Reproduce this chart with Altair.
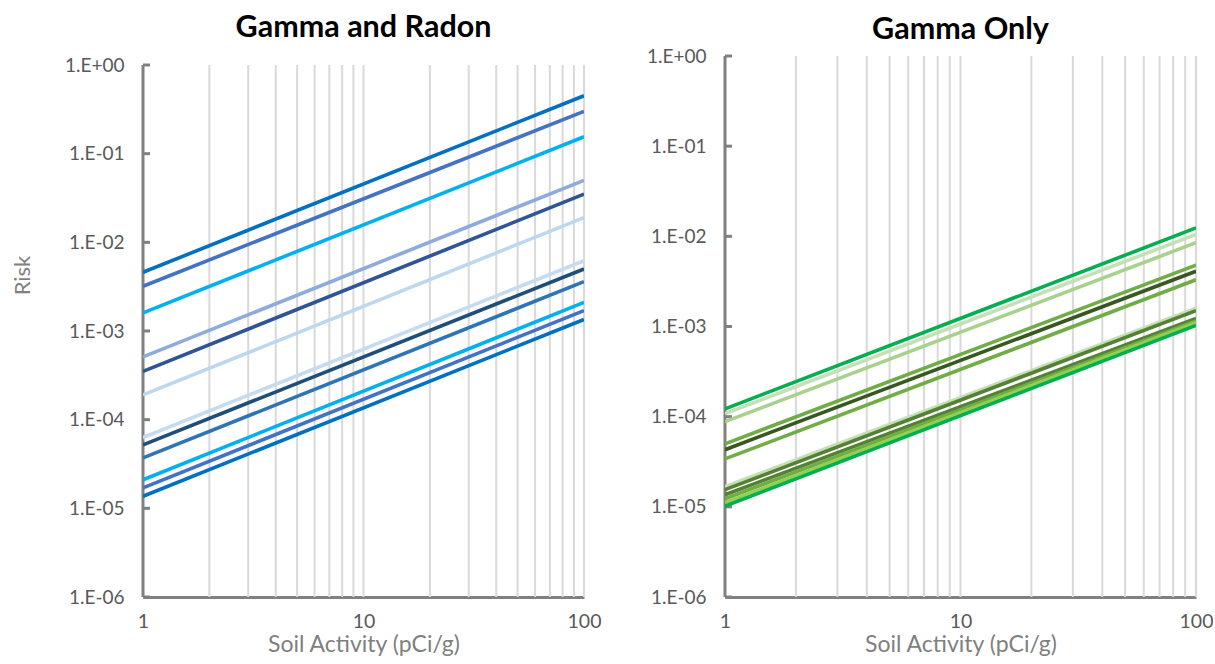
import altair as alt
import pandas as pd

# Soil activity end points (pCi/g) of every risk line
activity_low = 1
activity_high = 100

# Gamma and Radon: risk at 1 and at 100 pCi/g
radon_names = [f"GR{i}" for i in range(1, 13)]
radon_risk_low = [4.6e-3, 3.2e-3, 1.6e-3, 5.1e-4, 3.5e-4, 1.9e-4,
                  6.3e-5, 5.2e-5, 3.7e-5, 2.1e-5, 1.7e-5, 1.37e-5]
radon_risk_high = [0.45, 0.30, 0.155, 0.050, 0.035, 0.019,
                   0.0062, 0.0050, 0.0036, 0.0021, 0.0017, 0.00135]
radon_colors = ["#0070C0", "#4472C4", "#00B0F0", "#8FAADC", "#2F5597", "#BDD7EE",
                "#C5DCF0", "#1F4E79", "#2E75B6", "#00B0F0", "#4472C4", "#0070C0"]
radon_widths = [3.6, 3.6, 3.6, 3.6, 3.6, 3.6, 2.2, 2.2, 3.6, 3.6, 3.6, 3.6]

# Gamma only: risk at 1 and at 100 pCi/g
gamma_names = [f"G{i}" for i in range(1, 13)]
gamma_risk_low = [1.22e-4, 1.08e-4, 8.8e-5, 5.0e-5, 4.3e-5, 3.4e-5,
                  1.67e-5, 1.55e-5, 1.36e-5, 1.23e-5, 1.11e-5, 1.02e-5]
gamma_risk_high = [0.0124, 0.0105, 0.0085, 0.0048, 0.0041, 0.0033,
                   0.0016, 0.0015, 0.00123, 0.00115, 0.0011, 0.00103]
gamma_colors = ["#00B050", "#C5E0B4", "#A9D18E", "#70AD47", "#385723", "#70AD47",
                "#C5E0B4", "#548235", "#548235", "#70AD47", "#92D050", "#00B050"]
gamma_widths = [3.6, 3.6, 3.6, 3.6, 3.6, 3.6, 3.6, 2.2, 3.6, 3.6, 3.6, 3.6]

# Axis positions
risk_decades = [1e-6, 1e-5, 1e-4, 1e-3, 1e-2, 1e-1, 1.0]
risk_min = 1e-6
risk_max = 1.0
activity_grid = [2, 3, 4, 5, 6, 7, 8, 9, 10, 20, 30, 40, 50, 60, 70, 80, 90, 100]
activity_labels = [1, 10, 100]

AXIS_GREY = "#808080"
TEXT_GREY = "#595959"
TITLE_GREY = "#7F7F7F"
FONT = "Lato"
PANEL_HEIGHT = 541


def lines_frame(names, lows, highs):
    rows = []
    for name, lo, hi in zip(names, lows, highs):
        rows.append({"series": name, "activity": activity_low, "risk": lo})
        rows.append({"series": name, "activity": activity_high, "risk": hi})
    return pd.DataFrame(rows)


risk_label_expr = (
    "'1.E' + (round(log(datum.value)/LN10) < 0 ? '-' : '+') + "
    "(abs(round(log(datum.value)/LN10)) < 10 ? '0' : '') + "
    "abs(round(log(datum.value)/LN10))"
)


def panel(title, names, lows, highs, colors, widths, w, decade_px, y_title, title_offset):
    df = lines_frame(names, lows, highs)
    # the scale may reach a little above 1.E+00 so both panels share one bottom edge
    top = 10 ** (PANEL_HEIGHT / decade_px - 6) * risk_min * 1e6
    y_scale = alt.Scale(type="log", domain=[risk_min, top], nice=False)
    x_scale = alt.Scale(type="log", domain=[1, 100], nice=False)

    x_enc = alt.X(
        "activity:Q", scale=x_scale,
        axis=alt.Axis(
            values=activity_labels, format="d", labelOverlap=False,
            grid=False, ticks=False,
            domainColor=AXIS_GREY, domainWidth=3, labelColor=TEXT_GREY,
            labelFontSize=19.5, labelPadding=15, labelFlush=False,
            title="Soil Activity (pCi/g)", titleFontSize=23, titleColor=TITLE_GREY,
            titleFontWeight="normal", titlePadding=3,
        ),
    )
    y_axis_kwargs = dict(
        values=risk_decades, labelExpr=risk_label_expr, grid=False, ticks=False,
        domain=False, labelColor=TEXT_GREY,
        labelFontSize=19, labelPadding=19, labelFlush=False,
    )
    if y_title:
        y_axis_kwargs.update(title=y_title, titleFontSize=22, titleColor=TITLE_GREY,
                             titleFontWeight="normal", titlePadding=29.5, titleY=219)
    else:
        y_axis_kwargs.update(title=None)
    y_enc = alt.Y("risk:Q", scale=y_scale, axis=alt.Axis(**y_axis_kwargs))

    # vertical grid lines at every minor activity value
    grid = alt.Chart(pd.DataFrame({"activity": activity_grid})).mark_rule(
        color="#D9D9D9", strokeWidth=2
    ).encode(
        x=alt.X("activity:Q", scale=x_scale),
        y=alt.datum(risk_min, scale=y_scale),
        y2=alt.datum(risk_max),
    )
    lines = alt.Chart(df).mark_line(clip=True).encode(
        x=x_enc,
        y=y_enc,
        detail="series:N",
        color=alt.Color("series:N", scale=alt.Scale(domain=names, range=colors), legend=None),
        strokeWidth=alt.StrokeWidth("series:N", scale=alt.Scale(domain=names, range=widths), legend=None),
        order=alt.Order("activity:Q"),
    )
    # risk axis line from 1.E-06 to 1.E+00
    axis_line = alt.Chart(pd.DataFrame({"v": [0]})).mark_rule(
        color=AXIS_GREY, strokeWidth=3
    ).encode(
        x=alt.value(0),
        y=alt.datum(risk_min, scale=y_scale),
        y2=alt.datum(risk_max),
    )
    # short inward tick marks on the risk axis
    ticks = alt.Chart(pd.DataFrame({"risk": risk_decades})).mark_rule(
        color=AXIS_GREY, strokeWidth=3
    ).encode(
        x=alt.value(0), x2=alt.value(7), y=alt.Y("risk:Q", scale=y_scale),
    )
    return alt.layer(grid, axis_line, ticks, lines).properties(
        width=w, height=PANEL_HEIGHT,
        title=alt.TitleParams(title, offset=title_offset),
    )


left = panel("Gamma and Radon", radon_names, radon_risk_low, radon_risk_high,
             radon_colors, radon_widths, 441, 532 / 6, "Risk", 13)
right = panel("Gamma Only", gamma_names, gamma_risk_low, gamma_risk_high,
              gamma_colors, gamma_widths, 471, PANEL_HEIGHT / 6, None, 2)

chart = alt.hconcat(left, right, spacing=45).resolve_scale(
    color="independent", strokeWidth="independent",
).properties(
    padding={"left": 11, "top": 12, "right": 0, "bottom": 0},
).configure(font=FONT).configure_title(
    font=FONT, fontSize=30.5, fontWeight="bold", color="#000000", anchor="middle",
).configure_axis(
    labelFont=FONT, titleFont=FONT,
).configure_view(stroke=None)

chart.save("out.html", embed_options={"renderer": "svg", "actions": False})
